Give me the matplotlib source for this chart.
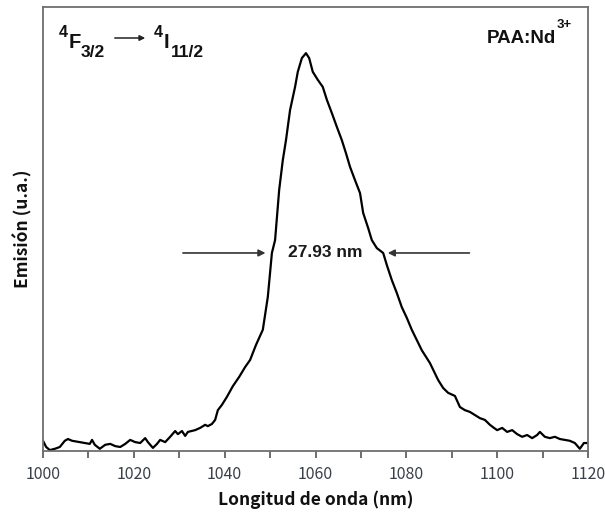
import matplotlib
matplotlib.use("Agg")
import matplotlib.pyplot as plt
from matplotlib.ticker import MultipleLocator

wavelength = [1000.0, 1000.7, 1001.5, 1002.6, 1003.7, 1004.8, 1005.5, 1006.4, 1008.1, 1009.2,
              1010.3, 1010.8, 1011.4, 1012.5, 1013.7, 1014.8, 1015.9, 1017.0, 1018.1, 1019.2,
              1020.3, 1021.4, 1022.5, 1023.1, 1024.2, 1025.1, 1025.8, 1026.9, 1028.0, 1029.1,
              1029.7, 1030.6, 1031.3, 1031.9, 1033.5, 1034.6, 1035.7, 1036.3, 1037.2, 1037.9,
              1038.5, 1039.4, 1040.5, 1041.8, 1043.2, 1044.5, 1045.6, 1046.9, 1048.4, 1049.5,
              1050.4, 1051.1, 1052.0, 1052.8, 1053.5, 1054.4, 1055.5, 1056.1, 1057.0, 1057.9,
              1058.6, 1059.4, 1060.5, 1061.6, 1062.5, 1063.6, 1064.7, 1065.8, 1066.7, 1067.6,
              1068.7, 1069.8, 1070.5, 1071.6, 1072.4, 1073.5, 1074.9, 1075.7, 1076.8, 1077.9,
              1079.0, 1080.1, 1081.2, 1082.3, 1083.4, 1085.2, 1087.0, 1088.1, 1089.2, 1090.7,
              1091.8, 1092.9, 1094.0, 1095.1, 1096.2, 1097.3, 1098.4, 1099.3, 1100.0, 1101.1,
              1102.2, 1103.3, 1104.4, 1105.5, 1106.6, 1107.7, 1108.8, 1109.4, 1110.5, 1111.6,
              1112.7, 1113.8, 1114.9, 1116.0, 1117.1, 1118.2, 1119.1, 1120.0]
emission = [0.023, 0.009, 0.002, 0.005, 0.009, 0.023, 0.027, 0.023, 0.020, 0.018,
            0.016, 0.025, 0.014, 0.005, 0.014, 0.016, 0.011, 0.009, 0.016, 0.025,
            0.020, 0.018, 0.029, 0.020, 0.007, 0.016, 0.025, 0.020, 0.032, 0.045,
            0.038, 0.045, 0.034, 0.043, 0.047, 0.052, 0.059, 0.056, 0.061, 0.070,
            0.092, 0.104, 0.122, 0.146, 0.167, 0.189, 0.205, 0.239, 0.273, 0.347,
            0.446, 0.475, 0.588, 0.655, 0.700, 0.768, 0.820, 0.854, 0.885, 0.896,
            0.885, 0.854, 0.836, 0.820, 0.791, 0.761, 0.730, 0.700, 0.671, 0.640,
            0.610, 0.581, 0.536, 0.502, 0.475, 0.457, 0.446, 0.419, 0.385, 0.356,
            0.324, 0.300, 0.273, 0.250, 0.227, 0.198, 0.160, 0.142, 0.131, 0.124,
            0.099, 0.092, 0.088, 0.081, 0.074, 0.070, 0.059, 0.052, 0.047, 0.052,
            0.043, 0.047, 0.038, 0.032, 0.036, 0.029, 0.036, 0.043, 0.032, 0.029,
            0.032, 0.027, 0.025, 0.023, 0.018, 0.005, 0.018, 0.018]

xticks = [1000, 1020, 1040, 1060, 1080, 1100, 1120]
fwhm_label = "27.93 nm"
fwhm_left = 1049.6
fwhm_right = 1075.3
fwhm_level = 0.446

W, H = 605, 516
fig = plt.figure(figsize=(W / 100, H / 100), dpi=100)
ax = fig.add_axes([43 / W, 65 / H, 545 / W, 444 / H])

ax.plot(wavelength, emission, color='black', lw=1.6)
ax.set_xlim(1000, 1120)
ax.set_ylim(0, 1.0)
ax.set_yticks([])
ax.set_xticks(xticks)
ax.xaxis.set_minor_locator(MultipleLocator(10))
ax.tick_params(axis='x', which='both', direction='out', length=5, width=1.2,
               color='#555555', pad=6, labelsize=11.5, labelcolor='#3a3f4a')
for lbl in ax.get_xticklabels():
    lbl.set_family(['Noto Sans CJK KR', 'DejaVu Sans'])
for sp in ax.spines.values():
    sp.set_color('#6e6e6e')
    sp.set_linewidth(1.3)

ax.set_xlabel("Longitud de onda (nm)", family=['Noto Sans CJK KR', 'DejaVu Sans'],
              fontweight='bold', fontsize=12.5, labelpad=5, color='#111111')
ax.set_ylabel("Emisión (u.a.)", family=['Noto Sans CJK KR', 'DejaVu Sans'],
              fontweight='bold', fontsize=12.5, labelpad=8, color='#111111')

# FWHM arrows
arrow_kw = dict(arrowstyle='-|>', color='#333333', lw=1.2, mutation_scale=10)
ax.annotate('', xy=(fwhm_left, fwhm_level), xytext=(1030.2, fwhm_level), arrowprops=arrow_kw)
ax.annotate('', xy=(fwhm_right, fwhm_level), xytext=(1094.5, fwhm_level), arrowprops=arrow_kw)
ax.text(1062.2, fwhm_level, fwhm_label, ha='center', va='center', fontsize=12.5,
        fontweight='bold', family='Liberation Sans', color='#1a1a1a')


def ptext(x, y, s, size, ha='left'):
    fig.text(x / W, 1 - y / H, s, fontsize=size, fontweight='bold',
             family='Liberation Sans', ha=ha, va='baseline', color='#111111')


# transition label (pixel positions)
ptext(59, 37, "4", 11.5)
ptext(69, 48, "F", 14.5)
ptext(81, 57, "3/2", 12.5)
ax.annotate('', xy=(148 / W, 1 - 38 / H), xytext=(112 / W, 1 - 38 / H),
            xycoords='figure fraction',
            arrowprops=dict(arrowstyle='-|>', color='#222222', lw=1.1, mutation_scale=8))
ptext(154, 37, "4", 11.5)
ptext(164, 48, "I", 14.5)
ptext(171, 57, "11/2", 12.5)

ptext(556, 43, "PAA:Nd", 13.5, ha='right')
ptext(557, 28, "3+", 9.5)

fig.savefig("out.png", dpi=100)
